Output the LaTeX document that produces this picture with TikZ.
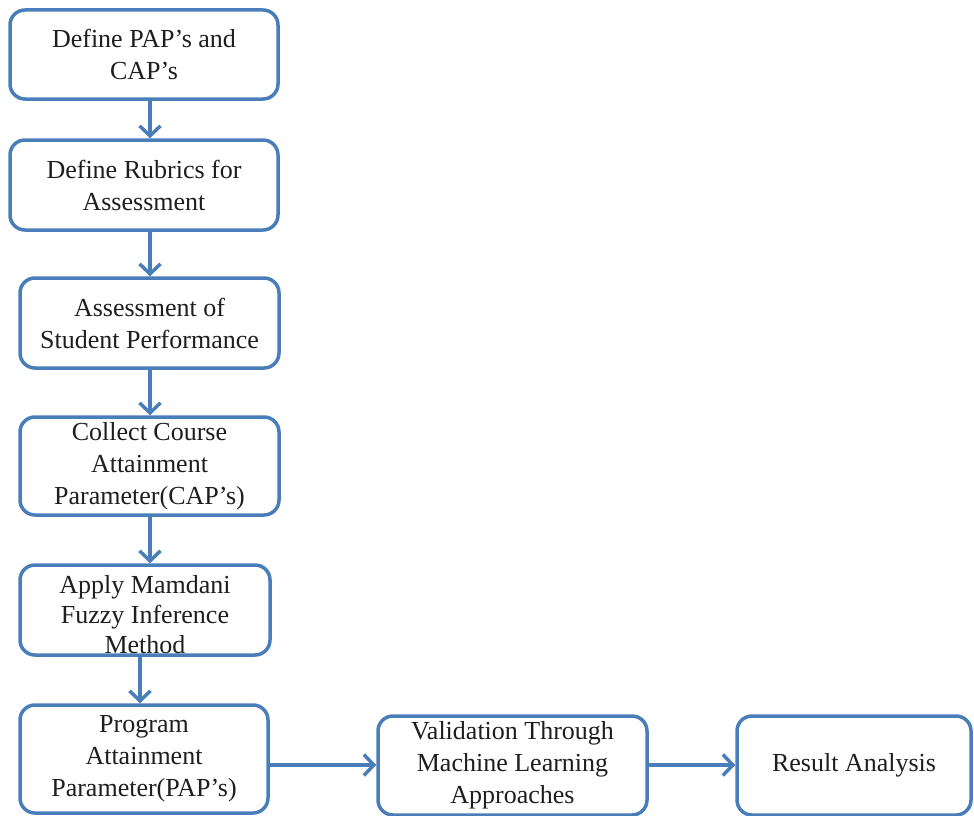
\documentclass[tikz,border=0pt]{standalone}
\usepackage{fontspec}
\setmainfont{Liberation Serif}
\usetikzlibrary{arrows.meta}
\definecolor{boxblue}{RGB}{74,126,187}
\definecolor{txt}{RGB}{30,30,30}
\tikzset{
  stepbox/.style={draw=boxblue, line width=3.5pt, rounded corners=15pt, fill=white,
    align=center, inner sep=0pt, text=txt,
    font=\fontsize{26}{32}\selectfont},
  arr/.style={draw=boxblue, line width=3.5pt, -{Straight Barb[length=10pt,width=21pt,line width=3.5pt]}}
}
\begin{document}
\begin{tikzpicture}[x=1pt,y=1pt]
\useasboundingbox (0,0) rectangle (974,-816);
\node[stepbox, minimum width=268pt, minimum height=89pt] (b1) at (144,-54.5) {Define PAP’s and\\CAP’s};
\node[stepbox, minimum width=268pt, minimum height=90pt] (b2) at (144,-185) {Define Rubrics for\\Assessment};
\node[stepbox, minimum width=259pt, minimum height=90pt] (b3) at (149.5,-323) {Assessment of\\Student Performance};
\node[stepbox, minimum width=259pt, minimum height=98pt] (b4) at (149.5,-466) {Collect Course\\Attainment\\Parameter(CAP’s)};
\node[stepbox, minimum width=250pt, minimum height=90pt] (b5) at (145,-610) {};
\node[align=center, text=txt, font=\fontsize{26}{30}\selectfont, inner sep=0pt] (t5) at (145,-615) {Apply Mamdani\\Fuzzy Inference\\Method};
\node[stepbox, minimum width=248pt, minimum height=108pt] (b6) at (144,-759) {Program\\Attainment\\Parameter(PAP’s)};
\node[stepbox, minimum width=269pt, minimum height=99pt] (b7) at (512.5,-765.5) {Validation Through\\Machine Learning\\Approaches};
\node[stepbox, minimum width=234pt, minimum height=99pt] (b8) at (854,-765.5) {Result Analysis};
\coordinate (ax) at (150,0);
\coordinate (bx) at (140,0);
\coordinate (ay) at (0,-765);
\draw[arr] (b1.south -| ax) -- (b2.north -| ax);
\draw[arr] (b2.south -| ax) -- (b3.north -| ax);
\draw[arr] (b3.south -| ax) -- (b4.north -| ax);
\draw[arr] (b4.south -| ax) -- (b5.north -| ax);
\draw[arr] (b5.south -| bx) -- (b6.north -| bx);
\draw[arr] (b6.east |- ay) -- (b7.west |- ay);
\draw[arr] (b7.east |- ay) -- (b8.west |- ay);
\end{tikzpicture}
\end{document}
